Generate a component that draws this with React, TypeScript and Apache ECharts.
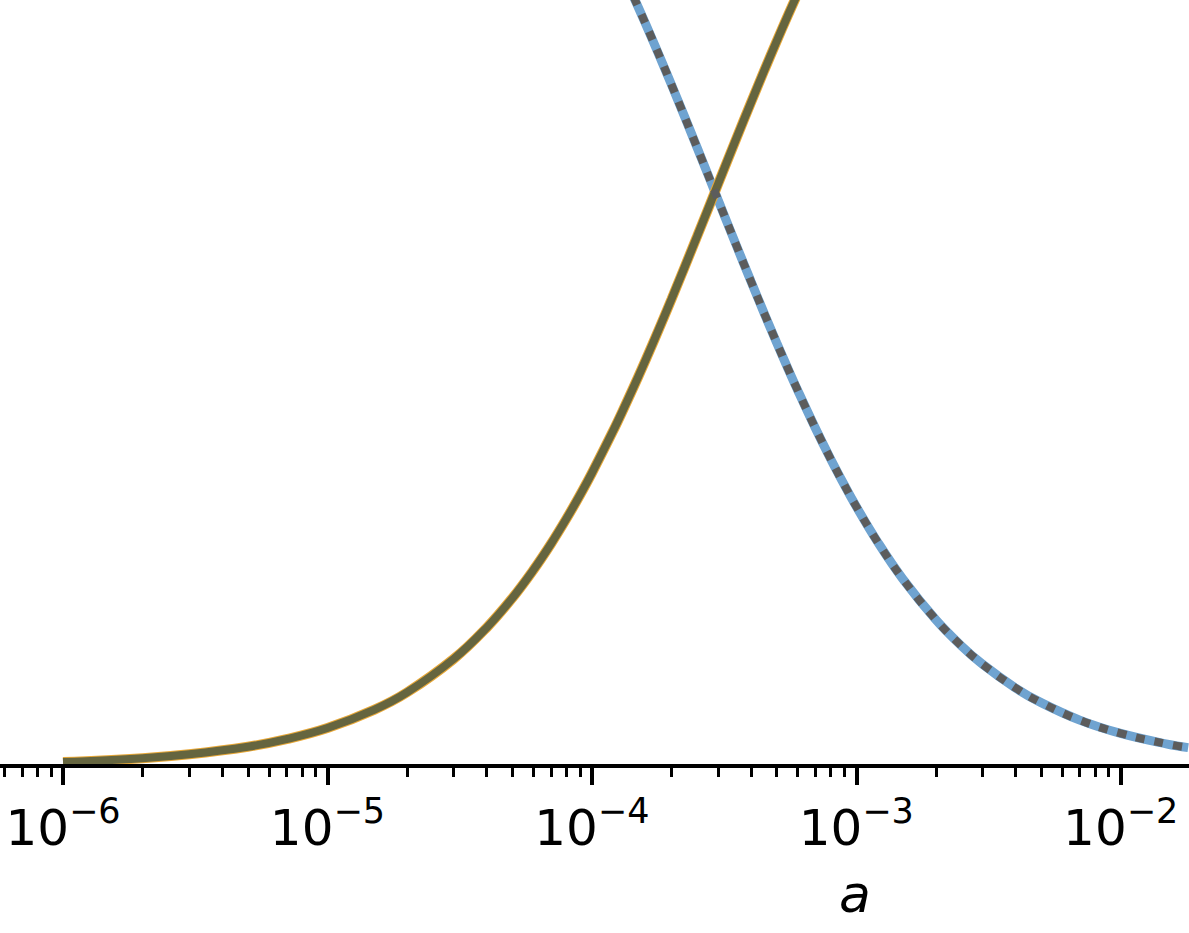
import React, { useEffect, useRef } from "react";
import * as echarts from "echarts";

// scale factor a (x values)
const aValues = [
  1e-6, 2e-6, 3e-6, 5e-6, 7e-6, 1e-5, 1.5e-5, 2e-5, 3e-5, 4e-5, 5e-5, 6e-5, 7e-5,
  8e-5, 9e-5, 1e-4, 1.2e-4, 1.3e-4, 1.5e-4, 1.7e-4, 2e-4, 2.5e-4, 3e-4, 3.5e-4,
  4e-4, 4.5e-4, 5e-4, 5.5e-4, 6e-4, 7e-4, 8e-4, 9e-4, 1e-3, 1.2e-3, 1.5e-3, 2e-3,
  2.5e-3, 3e-3, 4e-3, 5e-3, 7e-3, 1e-2, 1.5e-2, 1.8e-2,
];
// rising curve
const risingValues = [
  0.0034, 0.0068, 0.0102, 0.0168, 0.0234, 0.0331, 0.0489, 0.0641, 0.0932, 0.1205,
  0.1462, 0.1705, 0.1934, 0.2151, 0.2356, 0.2551, 0.2913, 0.3081, 0.3394, 0.368,
  0.4065, 0.4613, 0.5068, 0.5452, 0.578, 0.6065, 0.6313, 0.6532, 0.6726, 0.7056,
  0.7326, 0.755, 0.774, 0.8043, 0.8371, 0.8726, 0.8954, 0.9113, 0.932, 0.9448,
  0.96, 0.9716, 0.9809, 0.984,
];
// falling curve
const fallingValues = [
  0.9966, 0.9932, 0.9898, 0.9832, 0.9766, 0.9669, 0.9511, 0.9359, 0.9068, 0.8795,
  0.8538, 0.8295, 0.8066, 0.7849, 0.7644, 0.7449, 0.7087, 0.6919, 0.6606, 0.632,
  0.5935, 0.5387, 0.4932, 0.4548, 0.422, 0.3935, 0.3687, 0.3468, 0.3274, 0.2944,
  0.2674, 0.245, 0.226, 0.1957, 0.1629, 0.1274, 0.1046, 0.0887, 0.068, 0.0552,
  0.04, 0.0284, 0.0191, 0.016,
];
const majorTicks = [1e-6, 1e-5, 1e-4, 1e-3, 1e-2];
const minorMultipliers = [2, 3, 4, 5, 6, 7, 8, 9];
const xMin = 5.776e-7;
const xMax = 0.01813;
const yMin = 0;
const yMax = 0.6672;
const xLabel = "a";

export default function App() {
  const ref = useRef<HTMLDivElement>(null);
  useEffect(() => {
    if (!ref.current) return;
    const chart = echarts.init(ref.current, undefined, { renderer: "svg" });
    const minorTicks: number[] = [];
    for (let e = -7; e <= -2; e++) {
      for (const k of minorMultipliers) {
        const v = k * Math.pow(10, e);
        if (v >= xMin && v <= xMax) minorTicks.push(v);
      }
    }
    const rising = aValues.map((a, i) => [a, risingValues[i]]);
    const falling = aValues.map((a, i) => [a, fallingValues[i]]);
    const font = "DejaVu Sans";
    chart.setOption({
      animation: false,
      backgroundColor: "#ffffff",
      grid: { left: 0, right: 0, top: 0, bottom: 167, containLabel: false },
      xAxis: [
        {
          type: "log",
          logBase: 10,
          min: xMin,
          max: xMax,
          position: "bottom",
          axisLine: { show: true, lineStyle: { color: "#000", width: 4 } },
          axisTick: {
            show: true,
            length: 19,
            lineStyle: { color: "#000", width: 4 },
            customValues: majorTicks,
          },
          axisLabel: {
            show: true,
            margin: 27,
            customValues: majorTicks,
            formatter: (v: number) => {
              const e = Math.round(Math.log10(v));
              return `{b|10}{s|\u2212${-e}}`;
            },
            rich: {
              b: { fontSize: 50, fontFamily: font, color: "#000", lineHeight: 60, verticalAlign: "bottom" },
              s: { fontSize: 35, fontFamily: font, color: "#000", lineHeight: 35, verticalAlign: "top" },
            },
          },
          splitLine: { show: false },
          z: 10,
        },
        {
          type: "log",
          logBase: 10,
          min: xMin,
          max: xMax,
          position: "bottom",
          axisLine: { show: false },
          axisTick: {
            show: true,
            length: 11,
            lineStyle: { color: "#000", width: 3 },
            customValues: minorTicks,
          },
          axisLabel: { show: false },
          splitLine: { show: false },
        },
      ],
      yAxis: { type: "value", min: yMin, max: yMax, show: false },
      series: [
        {
          type: "line", xAxisIndex: 0, data: falling, smooth: 0.4, showSymbol: false,
          lineStyle: { color: "#6fa3d0", width: 9 }, z: 2,
        },
        {
          type: "line", xAxisIndex: 0, data: rising, smooth: 0.4, showSymbol: false,
          lineStyle: { color: "#e8a838", width: 10 }, z: 3,
        },
        {
          type: "line", xAxisIndex: 0, data: rising, smooth: 0.4, showSymbol: false,
          lineStyle: { color: "#65653f", width: 8 }, z: 4,
        },
        {
          type: "line", xAxisIndex: 0, data: falling, smooth: 0.4, showSymbol: false,
          lineStyle: { color: "#5c5c5c", width: 8, type: [9, 10], cap: "butt" }, z: 5,
        },
      ],
      graphic: [
        {
          type: "text",
          x: 855,
          y: 894,
          style: {
            text: xLabel,
            font: `italic 52px "${font}"`,
            fill: "#000",
            textAlign: "center",
            textVerticalAlign: "middle",
          },
        },
      ],
    });
    return () => chart.dispose();
  }, []);
  return (
    <div
      ref={ref}
      style={{ position: "fixed", left: 0, top: 0, width: 1189, height: 933 }}
    />
  );
}
